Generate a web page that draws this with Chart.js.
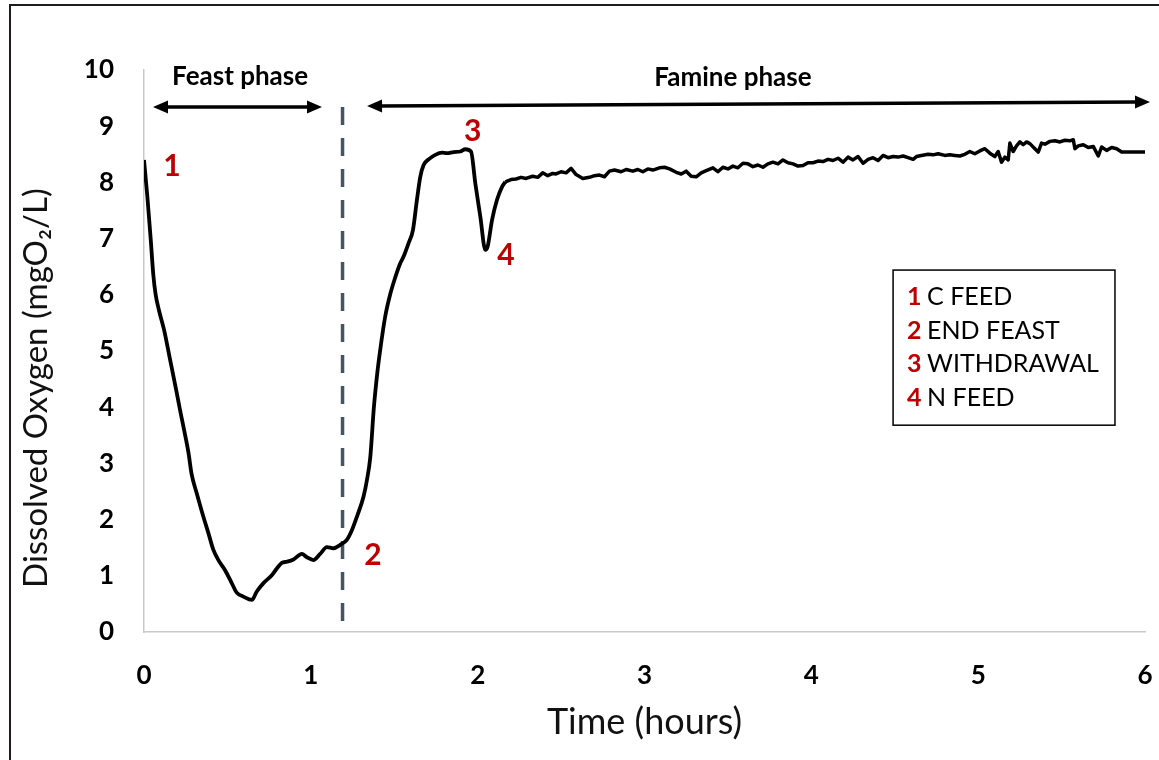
<!DOCTYPE html>
<html><head><meta charset="utf-8">
<script src="https://cdn.jsdelivr.net/npm/chart.js@4/dist/chart.umd.min.js"></script>
<style>html,body{margin:0;padding:0;background:#fff}#wrap{width:1159px;height:760px;position:relative}</style>
</head><body><div id="wrap"><canvas id="c" width="1159" height="760"></canvas></div>
<script>
// ---- data ----
const timeHours = [
0,0.02,0.04,0.056,0.07,0.09,0.12,0.156,0.19,0.216,0.24,0.266,0.286,0.316,0.356,0.386,0.416,0.446,0.486,0.526,0.556,0.596,0.646,0.676,0.716,0.766,0.796,0.826,0.856,0.896,0.946,0.976,1.016,1.056,1.096,1.136,1.176,1.216,1.246,1.276,1.316,1.336,1.356,1.378,1.398,1.415,1.445,1.475,1.505,1.536,1.556,1.586,1.612,1.636,1.656,1.676,1.706,1.746,1.786,1.816,1.856,1.896,1.926,1.96,1.986,2.016,2.046,2.06,2.086,2.116,2.146,2.166,
2.2,2.23,2.26,2.29,2.33,2.36,2.39,2.42,2.45,2.47,2.5,2.53,2.56,2.59,2.63,2.67,2.7,2.73,2.76,2.79,2.82,2.86,2.89,2.93,2.96,2.99,3.02,3.05,3.09,3.12,3.15,3.19,3.22,3.25,3.28,3.31,3.34,3.37,3.41,3.44,3.47,3.5,3.53,3.56,3.59,3.62,3.65,3.68,3.71,3.74,3.77,3.8,3.83,3.86,3.89,3.92,3.95,3.98,4.01,4.04,4.07,4.1,4.13,4.16,4.19,4.22,4.25,4.28,4.31,4.34,4.37,4.4,4.43,4.46,4.49,4.52,4.55,4.58,4.61,4.63,4.66,4.7,4.73,4.76,4.8,4.83,4.86,4.89,4.92,4.95,4.98,5.01,5.04,5.07,5.1,5.12,5.14,5.16,5.18,5.19,5.21,5.23,5.25,5.27,5.29,5.31,5.34,5.36,5.38,5.4,5.43,5.46,5.49,5.52,5.55,5.57,5.58,5.6,5.63,5.66,5.69,5.72,5.74,5.77,5.8,5.83,5.86,5.9,5.95,6.0];
const dissolvedOxygen = [
8.4,7.75,7.0,6.35,6.0,5.72,5.38,4.85,4.35,3.95,3.6,3.2,2.8,2.47,2.05,1.76,1.46,1.28,1.1,0.87,0.7,0.63,0.57,0.72,0.87,1.01,1.13,1.23,1.25,1.29,1.39,1.33,1.28,1.39,1.51,1.49,1.55,1.64,1.81,2.05,2.41,2.7,3.1,4.0,4.6,5.0,5.6,6.0,6.3,6.56,6.68,6.92,7.15,7.69,8.1,8.31,8.41,8.49,8.53,8.52,8.54,8.55,8.59,8.55,7.98,7.39,6.8,6.86,7.33,7.69,7.92,8.01,
8.05,8.06,8.09,8.07,8.11,8.09,8.17,8.12,8.16,8.15,8.19,8.17,8.25,8.14,8.07,8.09,8.12,8.13,8.1,8.2,8.22,8.19,8.23,8.2,8.23,8.19,8.24,8.22,8.26,8.27,8.24,8.18,8.15,8.2,8.11,8.1,8.17,8.21,8.26,8.19,8.27,8.24,8.29,8.26,8.34,8.33,8.28,8.31,8.27,8.33,8.36,8.33,8.4,8.35,8.33,8.29,8.3,8.35,8.35,8.38,8.37,8.41,8.39,8.43,8.36,8.45,8.4,8.46,8.34,8.41,8.44,8.39,8.48,8.44,8.46,8.45,8.47,8.44,8.41,8.46,8.48,8.5,8.49,8.51,8.48,8.49,8.48,8.47,8.5,8.55,8.51,8.56,8.6,8.52,8.46,8.55,8.36,8.45,8.4,8.7,8.55,8.65,8.72,8.67,8.72,8.69,8.6,8.54,8.7,8.68,8.73,8.74,8.72,8.75,8.74,8.76,8.6,8.65,8.67,8.62,8.64,8.47,8.63,8.57,8.62,8.6,8.54,8.54,8.54,8.54];
const smoothUntilTime = 2.166; // feast + recovery drawn smooth, the noisy plateau drawn point to point
const xTickValues = [0,1,2,3,4,5,6];
const yTickValues = [0,1,2,3,4,5,6,7,8,9,10];
const xAxisTitle = 'Time (hours)';
const yAxisTitle = 'Dissolved Oxygen (mgO\u2082/L)';
const eventNumbers = ['1','2','3','4'];
const eventTimes = [0.168,1.373,1.97,2.17];
const eventLevels = [8.29,1.37,8.91,6.71];
const legendNumbers = ['1','2','3','4'];
const legendLabels = ['C FEED','END FEAST','WITHDRAWAL','N FEED'];
const phaseNames = ['Feast phase','Famine phase'];
const phaseLabelTimes = [0.576,3.53];
const phaseLabelLevels = [9.88,9.86];
const phaseArrowStart = [0.054,1.337];
const phaseArrowEnd = [1.067,6.03];
const phaseArrowLevelStart = [9.34,9.36];
const phaseArrowLevelEnd = [9.34,9.43];
const feastEndTime = 1.19;
const feastEndTop = 9.34;

const RED = '#c00000';
const FONT = "Lato, 'DejaVu Sans', sans-serif";

function arrow(ctx, x1, y1, x2, y2){
  const ang = Math.atan2(y2-y1, x2-x1), L = 15, W = 6.5;
  ctx.beginPath();
  ctx.moveTo(x1 + Math.cos(ang)*L*0.8, y1 + Math.sin(ang)*L*0.8);
  ctx.lineTo(x2 - Math.cos(ang)*L*0.8, y2 - Math.sin(ang)*L*0.8);
  ctx.stroke();
  const head = (tx, ty, a) => {
    ctx.beginPath();
    ctx.moveTo(tx, ty);
    ctx.lineTo(tx - Math.cos(a)*L - Math.sin(a)*W, ty - Math.sin(a)*L + Math.cos(a)*W);
    ctx.lineTo(tx - Math.cos(a)*L + Math.sin(a)*W, ty - Math.sin(a)*L - Math.cos(a)*W);
    ctx.closePath(); ctx.fill();
  };
  head(x2, y2, ang);
  head(x1, y1, ang + Math.PI);
}

const decor = {
  id: 'decor',
  beforeDraw(chart){
    const ctx = chart.ctx;
    ctx.save();
    ctx.strokeStyle = '#231a1e'; ctx.lineWidth = 2;
    ctx.beginPath(); ctx.moveTo(10, 760); ctx.lineTo(10, 5); ctx.lineTo(1159, 5); ctx.stroke();
    ctx.restore();
  },
  beforeDatasetsDraw(chart){
    const {ctx, scales:{x, y}} = chart;
    ctx.save();
    ctx.strokeStyle = '#44546a'; ctx.lineWidth = 3.5; ctx.setLineDash([18, 13]);
    const px = x.getPixelForValue(feastEndTime);
    ctx.beginPath(); ctx.moveTo(px, y.getPixelForValue(feastEndTop)); ctx.lineTo(px, y.getPixelForValue(0)); ctx.stroke();
    ctx.restore();
  },
  afterDatasetsDraw(chart){
    const {ctx, scales:{x, y}} = chart;
    ctx.save();
    // y-axis title (drawn here so it can sit slightly below the axis centre, as in the reference)
    ctx.translate(36, y.getPixelForValue(4.34));
    ctx.rotate(-Math.PI / 2);
    ctx.fillStyle = '#111'; ctx.font = '33px ' + FONT; ctx.textAlign = 'center'; ctx.textBaseline = 'middle';
    ctx.fillText(yAxisTitle, 0, 0);
    ctx.setTransform(1, 0, 0, 1, 0, 0);
    // phase arrows and names
    ctx.strokeStyle = '#000'; ctx.fillStyle = '#000'; ctx.lineWidth = 3.5;
    for (let i = 0; i < phaseNames.length; i++){
      arrow(ctx, x.getPixelForValue(phaseArrowStart[i]), y.getPixelForValue(phaseArrowLevelStart[i]),
                 x.getPixelForValue(phaseArrowEnd[i]), y.getPixelForValue(phaseArrowLevelEnd[i]));
      ctx.font = 'bold 26px ' + FONT; ctx.textAlign = 'center'; ctx.textBaseline = 'middle';
      ctx.fillText(phaseNames[i], x.getPixelForValue(phaseLabelTimes[i]), y.getPixelForValue(phaseLabelLevels[i]));
    }
    // event numbers
    ctx.fillStyle = RED; ctx.font = 'bold 30px ' + FONT;
    for (let i = 0; i < eventNumbers.length; i++){
      ctx.fillText(eventNumbers[i], x.getPixelForValue(eventTimes[i]), y.getPixelForValue(eventLevels[i]));
    }
    // legend box
    const bx1 = x.getPixelForValue(4.49), bx2 = x.getPixelForValue(5.82);
    const by1 = y.getPixelForValue(6.44), by2 = y.getPixelForValue(3.68);
    ctx.strokeStyle = '#000'; ctx.lineWidth = 1.5;
    ctx.strokeRect(bx1, by1, bx2 - bx1, by2 - by1);
    ctx.textAlign = 'left'; ctx.textBaseline = 'middle';
    const step = 33.5;
    for (let i = 0; i < legendLabels.length; i++){
      const ty = by1 + 27 + step * i;
      ctx.fillStyle = RED; ctx.font = 'bold 25px ' + FONT;
      ctx.fillText(legendNumbers[i], bx1 + 14, ty);
      ctx.fillStyle = '#000'; ctx.font = '25px ' + FONT;
      ctx.fillText(legendLabels[i], bx1 + 34, ty);
    }
    ctx.restore();
  }
};

const allPoints = timeHours.map((t, i) => ({x: t, y: dissolvedOxygen[i]}));
const splitIndex = timeHours.indexOf(smoothUntilTime);

new Chart(document.getElementById('c'), {
  type: 'line',
  data: {
    datasets: [{
      data: allPoints.slice(0, splitIndex + 1),
      borderColor: '#000', borderWidth: 3.8, pointRadius: 0, tension: 0.3,
      cubicInterpolationMode: 'monotone', fill: false
    }, {
      data: allPoints.slice(splitIndex),
      borderColor: '#000', borderWidth: 3.5, pointRadius: 0, tension: 0,
      borderJoinStyle: 'round', fill: false
    }]
  },
  options: {
    responsive: false, animation: false,
    layout: {padding: {left: 0, top: 70, right: 14, bottom: 0}},
    plugins: {legend: {display: false}, tooltip: {enabled: false}},
    scales: {
      x: {
        type: 'linear', min: 0, max: 6,
        afterBuildTicks: s => { s.ticks = xTickValues.map(v => ({value: v})); },
        afterFit: s => { s.height = 128; s.paddingLeft = 0; s.paddingRight = 0; },
        grid: {display: false, drawTicks: false},
        border: {display: true, color: '#c9c9c9', width: 1.5},
        ticks: {color: '#000', font: {family: FONT, size: 26, weight: 'bold'}, padding: 28, maxRotation: 0},
        title: {display: true, text: xAxisTitle, color: '#111', font: {family: FONT, size: 36}, padding: {top: 0, bottom: 16}}
      },
      y: {
        min: 0, max: 10,
        afterBuildTicks: s => { s.ticks = yTickValues.map(v => ({value: v})); },
        afterFit: s => { s.width = 144; },
        grid: {display: false, drawTicks: false},
        border: {display: true, color: '#c9c9c9', width: 1.5},
        ticks: {color: '#000', font: {family: FONT, size: 26, weight: 'bold'}, padding: 30},
        title: {display: false}
      }
    }
  },
  plugins: [decor]
});
</script></body></html>
